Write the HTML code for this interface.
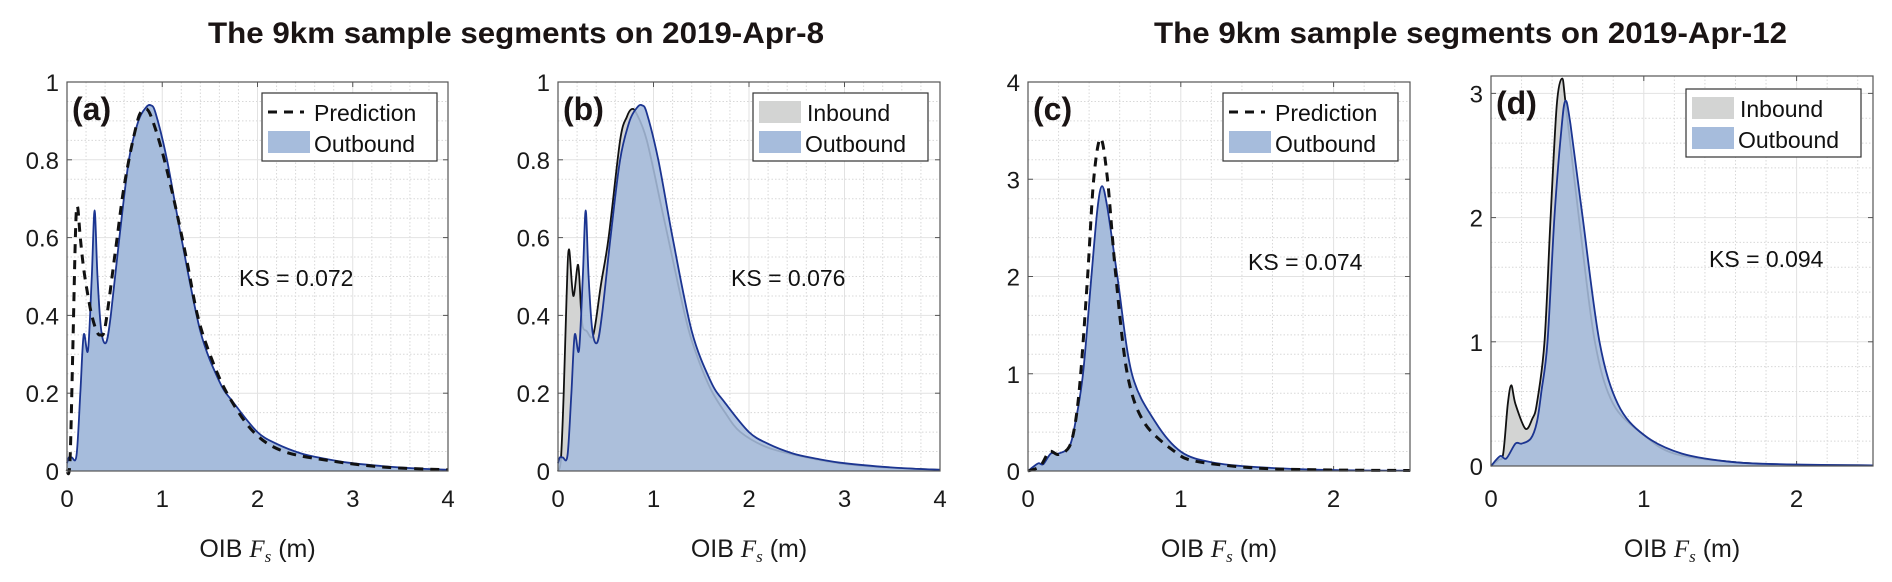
<!DOCTYPE html>
<html><head><meta charset="utf-8"><style>
html,body{margin:0;padding:0;background:#fff;}
svg{display:block;font-family:"Liberation Sans",Arial,sans-serif;}
</style></head><body>
<svg id="fig" width="1892" height="582" viewBox="0 0 1892 582" xmlns="http://www.w3.org/2000/svg">
<text x="208" y="43" font-size="30" font-weight="bold" fill="#1a1414" textLength="616" lengthAdjust="spacingAndGlyphs">The 9km sample segments on 2019-Apr-8</text>
<text x="1154" y="43" font-size="30" font-weight="bold" fill="#1a1414" textLength="633" lengthAdjust="spacingAndGlyphs">The 9km sample segments on 2019-Apr-12</text>
</svg>
<script>
// ---- Panel (a) data ----
const aOutX=[0,0.02,0.05,0.1,0.14,0.175,0.22,0.26,0.29,0.32,0.36,0.41,0.46,0.55,0.65,0.75,0.83,0.88,0.93,1.05,1.2,1.4,1.6,1.75,2.0,2.2,2.46,2.7,3.0,3.5,4.0];
const aOutY=[0.02,0.035,0.035,0.04,0.2,0.35,0.31,0.5,0.67,0.5,0.36,0.33,0.4,0.6,0.8,0.9,0.935,0.94,0.92,0.8,0.6,0.36,0.23,0.175,0.1,0.07,0.045,0.032,0.02,0.009,0.003];
const aPredX=[0,0.03,0.06,0.09,0.11,0.14,0.175,0.22,0.26,0.31,0.35,0.4,0.5,0.58,0.65,0.72,0.77,0.84,0.9,1.0,1.12,1.25,1.37,1.5,1.68,1.96,2.28,2.8,3.33,4.0];
const aPredY=[0,0.02,0.3,0.62,0.68,0.6,0.52,0.45,0.4,0.36,0.35,0.37,0.55,0.7,0.8,0.88,0.92,0.93,0.9,0.82,0.7,0.55,0.4,0.3,0.2,0.1,0.05,0.025,0.01,0.003];
// ---- Panel (b) data ----
const bInX=[0,0.03,0.06,0.09,0.115,0.16,0.21,0.24,0.26,0.3,0.37,0.45,0.53,0.65,0.72,0.77,0.82,0.93,1.1,1.33,1.45,1.6,1.75,1.91,2.2,2.6,3.0,3.5,4.0];
const bInY=[0,0.03,0.2,0.45,0.57,0.45,0.53,0.42,0.37,0.36,0.35,0.48,0.6,0.85,0.91,0.93,0.92,0.85,0.66,0.4,0.3,0.21,0.15,0.1,0.06,0.035,0.018,0.008,0.003];
const bOutX=aOutX;
const bOutY=aOutY;
// ---- Panel (c) data ----
const cOutX=[0,0.04,0.07,0.1,0.15,0.2,0.27,0.31,0.36,0.415,0.455,0.485,0.52,0.585,0.68,0.835,1.0,1.2,1.5,2.0,2.5];
const cOutY=[0,0.05,0.08,0.07,0.18,0.18,0.25,0.5,1.0,2.0,2.7,2.93,2.7,2.0,1.0,0.5,0.2,0.09,0.04,0.01,0.003];
const cPredX=[0,0.08,0.14,0.2,0.27,0.31,0.345,0.39,0.43,0.475,0.52,0.575,0.65,0.76,0.96,1.1,1.5,2.0,2.5];
const cPredY=[0,0.05,0.2,0.17,0.25,0.5,1.0,2.0,3.0,3.42,3.0,2.0,1.0,0.5,0.2,0.1,0.03,0.01,0.005];
// ---- Panel (d) data ----
const dInX=[0,0.05,0.08,0.11,0.133,0.16,0.225,0.27,0.3,0.35,0.39,0.43,0.465,0.49,0.575,0.68,0.8,1.0,1.2,1.6,2.0,2.5];
const dInY=[0,0.05,0.1,0.5,0.65,0.5,0.3,0.38,0.5,1.0,2.0,2.9,3.12,2.9,2.0,1.0,0.5,0.25,0.1,0.03,0.01,0.005];
const dOutX=[0,0.06,0.1,0.16,0.2,0.26,0.3,0.33,0.37,0.415,0.46,0.487,0.52,0.6,0.71,0.83,1.0,1.25,1.6,2.0,2.5];
const dOutY=[0,0.08,0.06,0.18,0.18,0.22,0.35,0.6,1.0,2.0,2.7,2.94,2.75,2.0,1.0,0.5,0.25,0.1,0.03,0.012,0.005];
// tick labels
const abXTicks=["0","1","2","3","4"];
const abYTicks=["0","0.2","0.4","0.6","0.8","1"];
const cdXTicks=["0","1","2"];
const cYTicks=["0","1","2","3","4"];
const dYTicks=["0","1","2","3"];

const NS="http://www.w3.org/2000/svg";
const svg=document.getElementById('fig');
function mk(tag,attrs,parent){const e=document.createElementNS(NS,tag);for(const k in attrs)e.setAttribute(k,attrs[k]);(parent||svg).appendChild(e);return e;}
function pathFrom(xs,ys,sx,sy){
  const p=xs.map((x,i)=>[sx(x),sy(ys[i])]);
  let d="M"+p[0][0].toFixed(1)+","+p[0][1].toFixed(1);
  for(let i=0;i<p.length-1;i++){
    const p0=p[Math.max(0,i-1)],p1=p[i],p2=p[i+1],p3=p[Math.min(p.length-1,i+2)];
    const t=0.16;
    const c1=[p1[0]+(p2[0]-p0[0])*t,p1[1]+(p2[1]-p0[1])*t];
    const c2=[p2[0]-(p3[0]-p1[0])*t,p2[1]-(p3[1]-p1[1])*t];
    d+=" C"+c1[0].toFixed(1)+","+c1[1].toFixed(1)+" "+c2[0].toFixed(1)+","+c2[1].toFixed(1)+" "+p2[0].toFixed(1)+","+p2[1].toFixed(1);
  }
  return d;
}
function panel(cfg){
  const g=mk('g',{});
  
  
  const L=cfg.L,R=cfg.R,T=cfg.T,B=cfg.B;
  const sx=x=>L+(x-0)/(cfg.xmax)*(R-L);
  const sy=y=>B-y/cfg.ymax*(B-T);
  for(let v=cfg.xminor;v<cfg.xmax-1e-9;v+=cfg.xminor){
    if(Math.abs(v-Math.round(v/cfg.xstep)*cfg.xstep)<1e-6)continue;
    const l=mk('line',{x1:sx(v),x2:sx(v),y1:T,y2:B,stroke:'#d8d8d8','stroke-width':1,'stroke-dasharray':'1.5 2'},g);
    
  }
  for(let v=cfg.yminor;v<cfg.ymax-1e-9;v+=cfg.yminor){
    if(Math.abs(v-Math.round(v/cfg.ystep)*cfg.ystep)<1e-6)continue;
    const l=mk('line',{x1:L,x2:R,y1:sy(v),y2:sy(v),stroke:'#d8d8d8','stroke-width':1,'stroke-dasharray':'1.5 2'},g);
    
  }
  cfg.xt.forEach((lab,i)=>{const v=i*cfg.xstep;const X=sx(v);
    if(v>0&&v<cfg.xmax){const l=mk('line',{x1:X,x2:X,y1:T,y2:B,stroke:'#e2e2e2','stroke-width':1},g);}
    mk('line',{x1:X,x2:X,y1:B,y2:B-5,stroke:'#555'},g);mk('line',{x1:X,x2:X,y1:T,y2:T+5,stroke:'#555'},g);
    const t=mk('text',{x:X,y:507,'font-size':24,'text-anchor':'middle',fill:'#1a1a1a'},g);t.textContent=lab;
    });
  cfg.yt.forEach((lab,i)=>{const v=i*cfg.ystep;const Y=sy(v);
    if(v>0&&v<cfg.ymax){const l=mk('line',{x1:L,x2:R,y1:Y,y2:Y,stroke:'#e2e2e2','stroke-width':1},g);}
    mk('line',{x1:L,x2:L+5,y1:Y,y2:Y,stroke:'#555'},g);mk('line',{x1:R,x2:R-5,y1:Y,y2:Y,stroke:'#555'},g);
    const t=mk('text',{x:L-8,y:Y+9,'font-size':24,'text-anchor':'end',fill:'#1a1a1a'},g);t.textContent=lab;
    });
  const base=" L"+sx(cfg.xmax)+","+B+" L"+sx(0)+","+B+" Z";
  if(cfg.inX){
    const d=pathFrom(cfg.inX,cfg.inY,sx,sy);
    const f=mk('path',{d:d+base,fill:'#d3d4d3',stroke:'none'},g);
    const l=mk('path',{d:d,fill:'none',stroke:'#111','stroke-width':1.8},g);
  }
  const od=pathFrom(cfg.outX,cfg.outY,sx,sy);
  const of=mk('path',{d:od+base,fill:'#a6bcdc','fill-opacity':cfg.inX?0.88:1,stroke:'none'},g);
  const ol=mk('path',{d:od,fill:'none',stroke:'#1c3591','stroke-width':1.8},g);
  if(cfg.pX){
    const pl=mk('path',{d:pathFrom(cfg.pX,cfg.pY,sx,sy),fill:'none',stroke:'#111','stroke-width':3,'stroke-dasharray':'9 7'},g);
    
  }
  const fr=mk('rect',{x:L,y:T,width:R-L,height:B-T,fill:'none',stroke:'#555','stroke-width':1.2},g);
  
  const pl=mk('text',{x:L+5,y:cfg.T+38,'font-size':32,'font-weight':'bold',fill:'#1a1414'},g);pl.textContent='('+cfg.id+')';
  
  const lg=mk('g',{},g);
  mk('rect',{x:cfg.lx,y:cfg.ly,width:175,height:68,fill:'#fff',stroke:'#333','stroke-width':1.2},lg);
  if(cfg.inX){
    mk('rect',{x:cfg.lx+6,y:cfg.ly+8,width:42,height:22,fill:'#d3d4d3'},lg);
  } else {
    mk('line',{x1:cfg.lx+6,x2:cfg.lx+42,y1:cfg.ly+19,y2:cfg.ly+19,stroke:'#111','stroke-width':3,'stroke-dasharray':'9 7'},lg);
  }
  mk('rect',{x:cfg.lx+6,y:cfg.ly+38,width:42,height:22,fill:'#a6bcdc'},lg);
  const t1=mk('text',{x:cfg.lx+(cfg.inX?54:52),y:cfg.ly+28,'font-size':23,fill:'#111'},lg);t1.textContent=cfg.inX?'Inbound':'Prediction';
  
  const t2=mk('text',{x:cfg.lx+52,y:cfg.ly+59,'font-size':23,fill:'#111'},lg);t2.textContent='Outbound';
  
  const ks=mk('text',{x:cfg.ksx,y:cfg.ksy+8,'font-size':23,fill:'#111'},g);ks.textContent=cfg.ks;
  
  const xl=mk('text',{x:(L+R)/2,y:557,'font-size':25,'text-anchor':'middle',fill:'#1a1a1a'},g);
  
  const s1=mk('tspan',{},xl);s1.textContent='OIB ';
  const s2=mk('tspan',{'font-family':'Liberation Serif,serif','font-style':'italic'},xl);s2.textContent='F';
  const s3=mk('tspan',{'font-family':'Liberation Serif,serif','font-style':'italic','font-size':17,dy:5},xl);s3.textContent='s';
  const s4=mk('tspan',{dy:-5},xl);s4.textContent=' (m)';
}
panel({id:'a',L:67,R:448,T:82,B:471,xmax:4,ymax:1,xstep:1,ystep:0.2,xminor:0.2,yminor:0.05,xt:abXTicks,yt:abYTicks,outX:aOutX,outY:aOutY,pX:aPredX,pY:aPredY,lx:262,ly:93,ks:'KS = 0.072',ksx:239,ksy:278});
panel({id:'b',L:558,R:940,T:82,B:471,xmax:4,ymax:1,xstep:1,ystep:0.2,xminor:0.2,yminor:0.05,xt:abXTicks,yt:abYTicks,inX:bInX,inY:bInY,outX:bOutX,outY:bOutY,lx:753,ly:93,ks:'KS = 0.076',ksx:731,ksy:278});
panel({id:'c',L:1028,R:1410,T:82,B:471,xmax:2.5,ymax:4,xstep:1,ystep:1,xminor:0.2,yminor:0.2,xt:cdXTicks,yt:cYTicks,outX:cOutX,outY:cOutY,pX:cPredX,pY:cPredY,lx:1223,ly:93,ks:'KS = 0.074',ksx:1248,ksy:262});
panel({id:'d',L:1491,R:1873,T:76,B:466,xmax:2.5,ymax:3.14,xstep:1,ystep:1,xminor:0.2,yminor:0.2,xt:cdXTicks,yt:dYTicks,inX:dInX,inY:dInY,outX:dOutX,outY:dOutY,lx:1686,ly:89,ks:'KS = 0.094',ksx:1709,ksy:259});
</script>
</body></html>
